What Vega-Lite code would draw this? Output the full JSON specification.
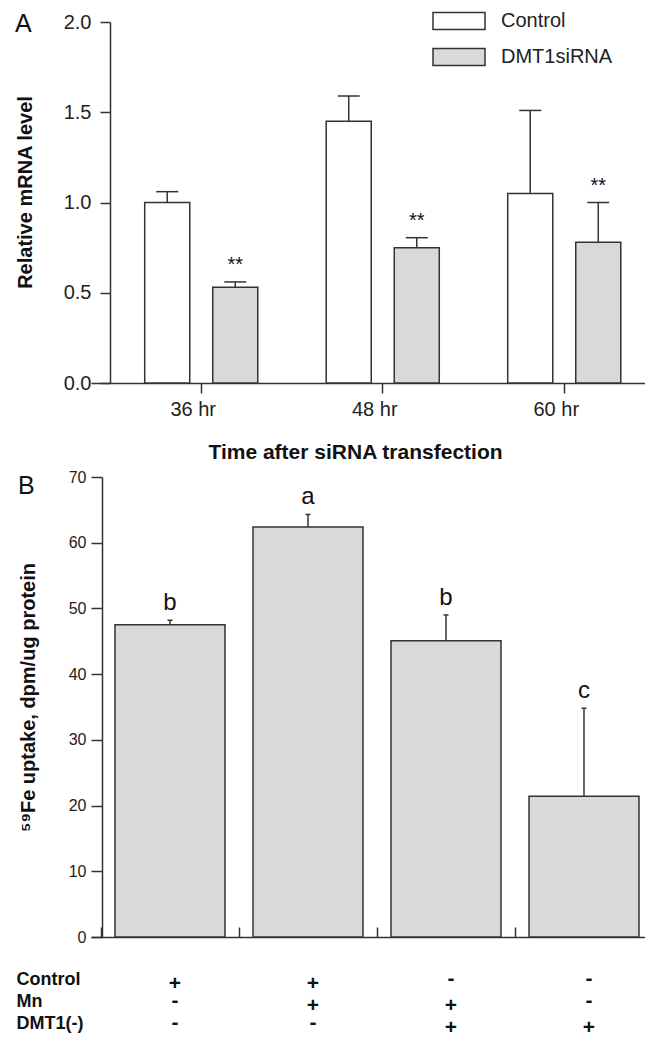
{
  "$schema": "https://vega.github.io/schema/vega-lite/v6.json",
  "background": "white",
  "padding": {"left": 15, "top": 10, "right": -9, "bottom": 5},
  "spacing": 7,
  "config": {
    "view": {"stroke": null},
    "font": "Liberation Sans",
    "axis": {"domainColor": "#333", "tickColor": "#333", "domainWidth": 1.5, "tickWidth": 1.5, "labelColor": "#222", "titleColor": "#111", "grid": false, "labelFont": "Liberation Sans", "titleFont": "Liberation Sans"},
    "title": {"font": "Liberation Sans", "color": "#111"}
  },
  "vconcat": [
    {
      "width": 564,
      "height": 361,
      "title": {"text": "A", "anchor": "start", "frame": "bounds", "fontSize": 25, "fontWeight": "normal", "offset": -25},
      "data": {"values": [
        {"time": "36 hr", "group": "Control", "mean": 1.0, "upper": 1.06, "sig": ""},
        {"time": "36 hr", "group": "DMT1siRNA", "mean": 0.53, "upper": 0.56, "sig": "**"},
        {"time": "48 hr", "group": "Control", "mean": 1.45, "upper": 1.59, "sig": ""},
        {"time": "48 hr", "group": "DMT1siRNA", "mean": 0.75, "upper": 0.805, "sig": "**"},
        {"time": "60 hr", "group": "Control", "mean": 1.05, "upper": 1.51, "sig": ""},
        {"time": "60 hr", "group": "DMT1siRNA", "mean": 0.78, "upper": 1.0, "sig": "**"}
      ]},
      "encoding": {
        "x": {"field": "time", "type": "nominal", "sort": null,
          "scale": {"paddingInner": 0, "paddingOuter": 0.0537, "align": 1},
          "axis": {"title": "Time after siRNA transfection", "tickSize": 10, "labelPadding": 6, "labelAngle": 0, "labelOffset": -8, "labelFontSize": 20, "titleFontSize": 21, "titleFontWeight": "bold", "titlePadding": 22, "titleX": 264}},
        "xOffset": {"field": "group", "type": "nominal", "sort": null, "scale": {"paddingInner": 0.338, "paddingOuter": 0.503}}
      },
      "layer": [
        {
          "mark": {"type": "bar", "stroke": "#333", "strokeWidth": 1.5},
          "encoding": {
            "y": {"field": "mean", "type": "quantitative", "scale": {"domain": [0, 2]},
              "axis": {"title": "Relative mRNA level", "values": [0, 0.5, 1, 1.5, 2], "format": ".1f", "offset": -19, "tickSize": 10, "labelPadding": 9, "labelFontSize": 20, "titleFontSize": 20, "titleFontWeight": "bold", "titleX": -85, "titleY": 170, "titleBaseline": "middle"}},
            "fill": {"field": "group", "type": "nominal", "sort": null,
              "scale": {"domain": ["Control", "DMT1siRNA"], "range": ["#ffffff", "#d9d9d9"]},
              "legend": {"title": null, "orient": "none", "legendX": 357, "legendY": -12, "padding": 0,
                "symbolType": "M-2.6,-0.85L2.6,-0.85L2.6,0.85L-2.6,0.85Z", "symbolSize": 400,
                "symbolStrokeColor": "#333", "symbolStrokeWidth": 1.5, "labelFontSize": 20, "labelColor": "#222", "labelOffset": 31, "rowPadding": 12}}
          }
        },
        {
          "mark": {"type": "rule", "stroke": "#333", "strokeWidth": 1.5},
          "encoding": {"y": {"field": "mean", "type": "quantitative"}, "y2": {"field": "upper"}}
        },
        {
          "mark": {"type": "tick", "size": 22, "thickness": 1.5, "color": "#333", "opacity": 1},
          "encoding": {"y": {"field": "upper", "type": "quantitative"}}
        },
        {
          "mark": {"type": "text", "dy": -17, "fontSize": 20, "color": "#111", "baseline": "middle"},
          "encoding": {"y": {"field": "upper", "type": "quantitative"}, "text": {"field": "sig"}}
        }
      ]
    },
    {
      "width": 562,
      "height": 460,
      "title": {"text": "B", "anchor": "start", "frame": "bounds", "fontSize": 25, "fontWeight": "normal", "offset": -30},
      "data": {"values": [
        {"group": "Control", "mean": 47.5, "upper": 48.2, "letter": "b"},
        {"group": "Mn", "mean": 62.4, "upper": 64.3, "letter": "a"},
        {"group": "Mn + DMT1(-)", "mean": 45.1, "upper": 49.0, "letter": "b"},
        {"group": "DMT1(-)", "mean": 21.4, "upper": 34.8, "letter": "c"}
      ]},
      "encoding": {
        "x": {"field": "group", "type": "nominal", "sort": null,
          "scale": {"domain": ["Control", "Mn", "Mn + DMT1(-)", "DMT1(-)"], "paddingInner": 0, "paddingOuter": 0.0362, "align": 1},
          "axis": {"title": null, "labels": false, "tickBand": "extent", "tickSize": -10}}
      },
      "layer": [
        {
          "mark": {"type": "bar", "fill": "#d9d9d9", "stroke": "#333", "strokeWidth": 1.5, "width": {"band": 0.797}},
          "encoding": {
            "y": {"field": "mean", "type": "quantitative", "scale": {"domain": [0, 70]},
              "axis": {"title": "⁵⁹Fe uptake, dpm/ug protein", "values": [0, 10, 20, 30, 40, 50, 60, 70], "offset": -11, "tickSize": 11, "labelPadding": 5, "labelFontSize": 16, "titleFontSize": 20, "titleFontWeight": "bold", "titleX": -74, "titleY": 220, "titleBaseline": "middle"}}
          }
        },
        {
          "mark": {"type": "rule", "stroke": "#333", "strokeWidth": 1.5},
          "encoding": {"y": {"field": "mean", "type": "quantitative"}, "y2": {"field": "upper"}}
        },
        {
          "mark": {"type": "tick", "size": 5, "thickness": 1.5, "color": "#333", "opacity": 1},
          "encoding": {"y": {"field": "upper", "type": "quantitative"}}
        },
        {
          "mark": {"type": "text", "dy": -17, "fontSize": 24, "color": "#111", "baseline": "middle"},
          "encoding": {"y": {"field": "upper", "type": "quantitative"}, "text": {"field": "letter"}}
        }
      ]
    },
    {
      "width": 562,
      "height": 83,
      "data": {"values": [
        {"group": "Control", "factor": "Control", "sign": "+"},
        {"group": "Control", "factor": "Mn", "sign": "-"},
        {"group": "Control", "factor": "DMT1(-)", "sign": "-"},
        {"group": "Mn", "factor": "Control", "sign": "+"},
        {"group": "Mn", "factor": "Mn", "sign": "+"},
        {"group": "Mn", "factor": "DMT1(-)", "sign": "-"},
        {"group": "Mn + DMT1(-)", "factor": "Control", "sign": "-"},
        {"group": "Mn + DMT1(-)", "factor": "Mn", "sign": "+"},
        {"group": "Mn + DMT1(-)", "factor": "DMT1(-)", "sign": "+"},
        {"group": "DMT1(-)", "factor": "Control", "sign": "-"},
        {"group": "DMT1(-)", "factor": "Mn", "sign": "-"},
        {"group": "DMT1(-)", "factor": "DMT1(-)", "sign": "+"}
      ]},
      "encoding": {
        "x": {"field": "group", "type": "nominal", "sort": null,
          "scale": {"type": "band", "domain": ["Control", "Mn", "Mn + DMT1(-)", "DMT1(-)"], "paddingInner": 0, "paddingOuter": 0.0362, "align": 1},
          "axis": null},
        "y": {"field": "factor", "type": "nominal", "sort": ["Control", "Mn", "DMT1(-)"],
          "scale": {"type": "band", "paddingInner": 0, "paddingOuter": 0.386, "align": 1},
          "axis": {"title": null, "domain": false, "ticks": false, "labelAlign": "left", "labelPadding": 75, "labelFontSize": 18, "labelFontWeight": "bold", "labelColor": "#111"}},
        "text": {"field": "sign"}
      },
      "layer": [
        {
          "transform": [{"filter": "datum.sign === '+'"}],
          "mark": {"type": "text", "fontSize": 21, "fontWeight": "bold", "dx": 5, "dy": 4, "color": "#111", "baseline": "middle"}
        },
        {
          "transform": [{"filter": "datum.sign === '-'"}],
          "mark": {"type": "text", "fontSize": 21, "fontWeight": "bold", "dx": 5, "dy": -1, "color": "#111", "baseline": "middle"}
        }
      ]
    }
  ]
}
